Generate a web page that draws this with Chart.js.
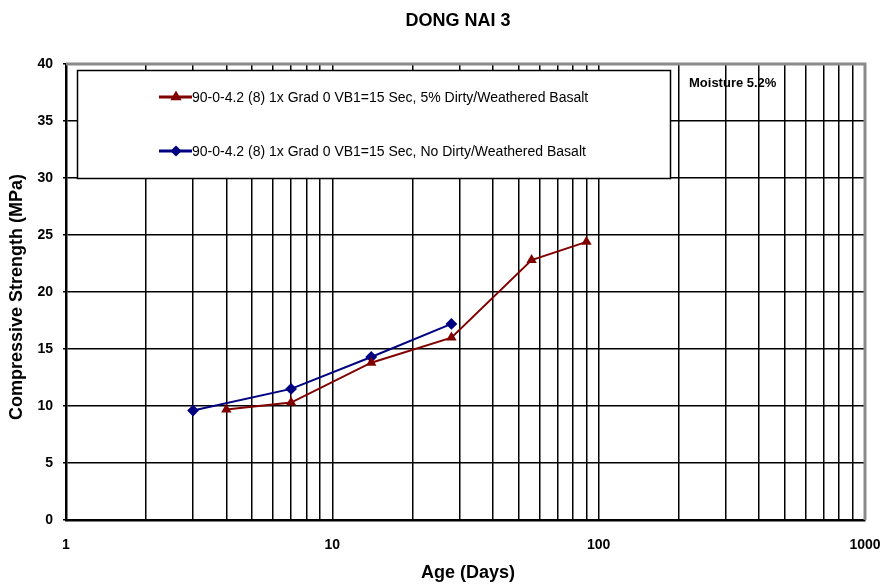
<!DOCTYPE html>
<html><head><meta charset="utf-8">
<script src="https://cdn.jsdelivr.net/npm/chart.js@4.4.0/dist/chart.umd.min.js"></script>
<style>html,body{margin:0;padding:0;background:#fff;}</style>
</head><body>
<canvas id="c" width="882" height="584"></canvas>
<script>
const chartTitle = 'DONG NAI 3';
const xAxisTitle = 'Age (Days)';
const yAxisTitle = 'Compressive Strength (MPa)';
const noteText = 'Moisture 5.2%';
const dirtyLabel = '90-0-4.2 (8) 1x Grad 0 VB1=15 Sec, 5% Dirty/Weathered Basalt';
const cleanLabel = '90-0-4.2 (8) 1x Grad 0 VB1=15 Sec, No Dirty/Weathered Basalt';
const dirtyDays = [4, 7, 14, 28, 56, 90];
const dirtyStrength = [9.7, 10.3, 13.8, 16.0, 22.8, 24.4];
const cleanDays = [3, 7, 14, 28];
const cleanStrength = [9.6, 11.5, 14.3, 17.2];
const xTickValues = [1,2,3,4,5,6,7,8,9,10,20,30,40,50,60,70,80,90,100,200,300,400,500,600,700,800,900,1000];
const xLabelValues = [1, 10, 100, 1000];
const xTickLabels = ['1', '10', '100', '1000'];
const yMin = 0, yMax = 40, yStep = 5;

const RED = '#800000', BLUE = '#000080';
const FONT = "'Liberation Sans', Arial, sans-serif";

const toPts = (xs, ys) => xs.map((x, i) => ({x: x, y: ys[i]}));

const decor = {
  id: 'decor',
  afterDatasetsDraw(chart) {
    const ctx = chart.ctx;
    const a = chart.chartArea;
    ctx.save();
    // frame top/right
    ctx.strokeStyle = '#8a8a8a';
    ctx.lineWidth = 3;
    ctx.beginPath();
    ctx.moveTo(a.left, a.top); ctx.lineTo(a.right, a.top); ctx.lineTo(a.right, a.bottom);
    ctx.stroke();
    // legend box
    ctx.fillStyle = '#fff';
    ctx.fillRect(77, 70, 593, 108);
    ctx.strokeStyle = '#000'; ctx.lineWidth = 1.5;
    ctx.strokeRect(77.5, 70.5, 593, 108);
    const items = [
      {ds: chart.data.datasets[0], y: 97},
      {ds: chart.data.datasets[1], y: 151}
    ];
    items.forEach(it => {
      ctx.strokeStyle = it.ds.borderColor; ctx.lineWidth = 3;
      ctx.beginPath(); ctx.moveTo(159, it.y); ctx.lineTo(192, it.y); ctx.stroke();
      Chart.helpers.drawPoint(ctx, {pointStyle: it.ds.pointStyle, radius: 3.5, borderWidth: 1}, 176, it.y);
      ctx.fillStyle = it.ds.borderColor;
      ctx.fill();
      ctx.fillStyle = '#000';
      ctx.font = '14px ' + FONT;
      ctx.textAlign = 'left'; ctx.textBaseline = 'middle';
      ctx.fillText(it.ds.label, 192, it.y + 1);
    });
    // note
    ctx.fillStyle = '#000';
    ctx.font = 'bold 13px ' + FONT;
    ctx.textAlign = 'left'; ctx.textBaseline = 'middle';
    ctx.fillText(noteText, 689, 83);
    // titles
    ctx.font = 'bold 18px ' + FONT;
    ctx.textAlign = 'center';
    ctx.fillText(chartTitle, 458, 21);
    ctx.fillText(xAxisTitle, 468, 573);
    ctx.translate(17, 297);
    ctx.rotate(-Math.PI / 2);
    ctx.font = 'bold 18px ' + FONT;
    ctx.fillText(yAxisTitle, 0, 0);
    ctx.restore();
  }
};

new Chart(document.getElementById('c'), {
  type: 'scatter',
  data: {
    datasets: [
      {label: dirtyLabel, data: toPts(dirtyDays, dirtyStrength), showLine: true,
       borderColor: RED, backgroundColor: RED, borderWidth: 2, pointStyle: 'triangle',
       pointRadius: 4, pointHoverRadius: 4},
      {label: cleanLabel, data: toPts(cleanDays, cleanStrength), showLine: true,
       borderColor: BLUE, backgroundColor: BLUE, borderWidth: 2, pointStyle: 'rectRot',
       pointRadius: 4.5, pointHoverRadius: 4.5}
    ]
  },
  options: {
    responsive: false,
    animation: false,
    layout: {padding: {top: 64, right: 17, bottom: 0, left: 0}},
    plugins: {legend: {display: false}, title: {display: false}, tooltip: {enabled: false}},
    scales: {
      x: {
        type: 'logarithmic', min: 1, max: 1000,
        afterBuildTicks: s => { s.ticks = xTickValues.map(v => ({value: v})); },
        afterFit: s => { s.height = 64; s.paddingLeft = 0; s.paddingRight = 0; },
        ticks: {
          autoSkip: false, maxRotation: 0, padding: 17, color: '#000',
          font: {family: FONT, size: 14, weight: 'bold'},
          callback: v => { const i = xLabelValues.indexOf(v); return i >= 0 ? xTickLabels[i] : ''; }
        },
        grid: {color: '#000', lineWidth: 1.5, drawTicks: false},
        border: {display: true, color: '#000', width: 2.5}
      },
      y: {
        min: yMin, max: yMax,
        afterFit: s => { s.width = 66; s.paddingTop = 0; s.paddingBottom = 0; },
        ticks: {stepSize: yStep, padding: 10, color: '#000', font: {family: FONT, size: 14, weight: 'bold'}},
        grid: {color: '#000', lineWidth: 1.5, drawTicks: true, tickLength: 3},
        border: {display: true, color: '#000', width: 2.5}
      }
    }
  },
  plugins: [decor]
});
</script>
</body></html>
